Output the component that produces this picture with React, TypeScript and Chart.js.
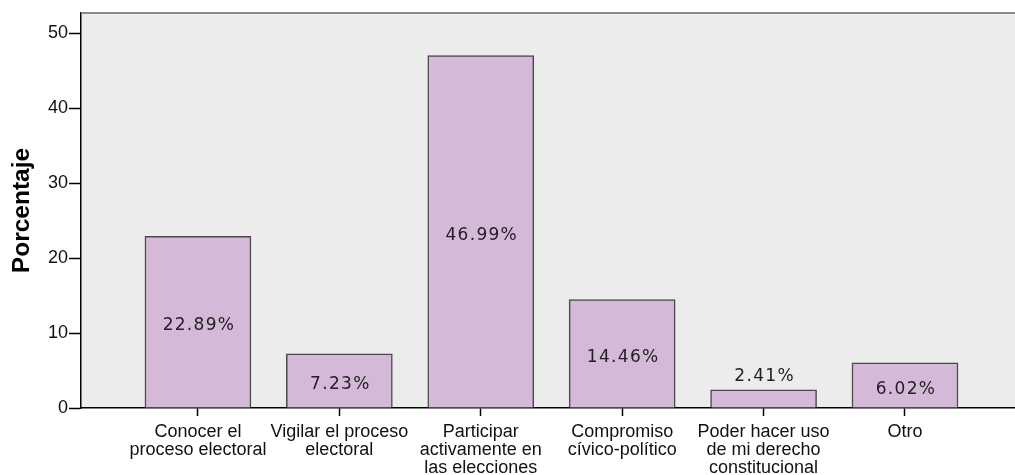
import React, { useEffect, useRef } from "react";
import { Chart, registerables } from "chart.js";

Chart.register(...registerables);

const categories: string[][] = [
  ["Conocer el", "proceso electoral"],
  ["Vigilar el proceso", "electoral"],
  ["Participar", "activamente en", "las elecciones"],
  ["Compromiso", "cívico-político"],
  ["Poder hacer uso", "de mi derecho", "constitucional"],
  ["Otro"],
];
const percentages: number[] = [22.89, 7.23, 46.99, 14.46, 2.41, 6.02];
const yTicks: number[] = [0, 10, 20, 30, 40, 50];
const yTitle = "Porcentaje";

const bgPlugin = {
  id: "bgPlugin",
  beforeDraw(chart: any) {
    const { ctx, chartArea } = chart;
    ctx.save();
    ctx.fillStyle = "#ebeceb";
    ctx.fillRect(chartArea.left, chartArea.top, chartArea.right - chartArea.left, chartArea.bottom - chartArea.top);
    ctx.restore();
  },
  afterDraw(chart: any) {
    const { ctx, chartArea } = chart;
    ctx.save();
    ctx.strokeStyle = "#8a8a8a";
    ctx.lineWidth = 2;
    ctx.beginPath();
    ctx.moveTo(chartArea.left, chartArea.top);
    ctx.lineTo(chartArea.right, chartArea.top);
    ctx.stroke();
    ctx.restore();
  },
};

const labelPlugin = {
  id: "labelPlugin",
  afterDatasetsDraw(chart: any) {
    const { ctx } = chart;
    const meta = chart.getDatasetMeta(0);
    ctx.save();
    ctx.font = '17px "DejaVu Sans"';
    (ctx as any).letterSpacing = "1.3px";
    ctx.fillStyle = "#222222";
    ctx.textAlign = "center";
    ctx.textBaseline = "middle";
    meta.data.forEach((bar: any, i: number) => {
      const v = percentages[i];
      const h = bar.base - bar.y;
      const text = v.toFixed(2) + "%";
      let y: number;
      if (h < 25) y = bar.y - 13;
      else y = (bar.y + bar.base) / 2 + 4;
      ctx.fillText(text, bar.x + 1, y);
    });
    ctx.restore();
  },
};

export default function App() {
  const ref = useRef<HTMLCanvasElement | null>(null);
  useEffect(() => {
    document.body.style.margin = "0";
    if (!ref.current) return;
    const chart = new Chart(ref.current, {
      type: "bar",
      data: {
        datasets: [
          {
            data: percentages.map((v, i) => ({ x: i, y: v })),
            backgroundColor: "#d5b9d8",
            borderColor: "#4a4a4a",
            borderWidth: 1.5,
            barThickness: 106,
          },
        ],
      },
      options: {
        responsive: false,
        animation: false,
        devicePixelRatio: 1,
        layout: { padding: { top: 13, right: 0, left: 0, bottom: 0 } },
        plugins: { legend: { display: false }, tooltip: { enabled: false } },
        scales: {
          x: {
            type: "linear",
            offset: false,
            min: -0.827,
            max: 5.778,
            afterBuildTicks: (scale: any) => {
              scale.ticks = categories.map((_, i) => ({ value: i }));
            },
            afterFit: (scale: any) => {
              scale.height = 67;
            },
            grid: {
              offset: false,
              drawOnChartArea: false,
              drawTicks: true,
              tickLength: 8,
              tickColor: "#000000",
              tickWidth: 1.5,
            },
            border: { display: true, color: "#000000", width: 1.5 },
            ticks: {
              autoSkip: false,
              maxRotation: 0,
              minRotation: 0,
              padding: 7,
              color: "#111111",
              font: { family: '"Liberation Sans", Arial, sans-serif', size: 18, lineHeight: 1 },
              callback: (value: any) => categories[Math.round(Number(value))] || "",
            },
          },
          y: {
            type: "linear",
            min: 0,
            max: 52.67,
            afterBuildTicks: (scale: any) => {
              scale.ticks = yTicks.map((v) => ({ value: v }));
            },
            afterFit: (scale: any) => {
              scale.width = 81;
            },
            grid: {
              drawOnChartArea: false,
              drawTicks: true,
              tickLength: 12,
              tickColor: "#000000",
              tickWidth: 1.5,
            },
            border: { display: true, color: "#000000", width: 1.5 },
            ticks: {
              padding: 1,
              color: "#111111",
              font: { family: '"Liberation Sans", Arial, sans-serif', size: 18 },
            },
            title: {
              display: true,
              text: yTitle,
              color: "#000000",
              font: { family: '"Liberation Sans", Arial, sans-serif', size: 24.5, weight: "bold" },
              padding: { top: 8, bottom: 0 },
            },
          },
        },
      },
      plugins: [bgPlugin, labelPlugin],
    } as any);
    return () => chart.destroy();
  }, []);
  return (
    <div style={{ width: 1015, height: 475 }}>
      <canvas ref={ref} width={1015} height={475} style={{ display: "block" }} />
    </div>
  );
}
